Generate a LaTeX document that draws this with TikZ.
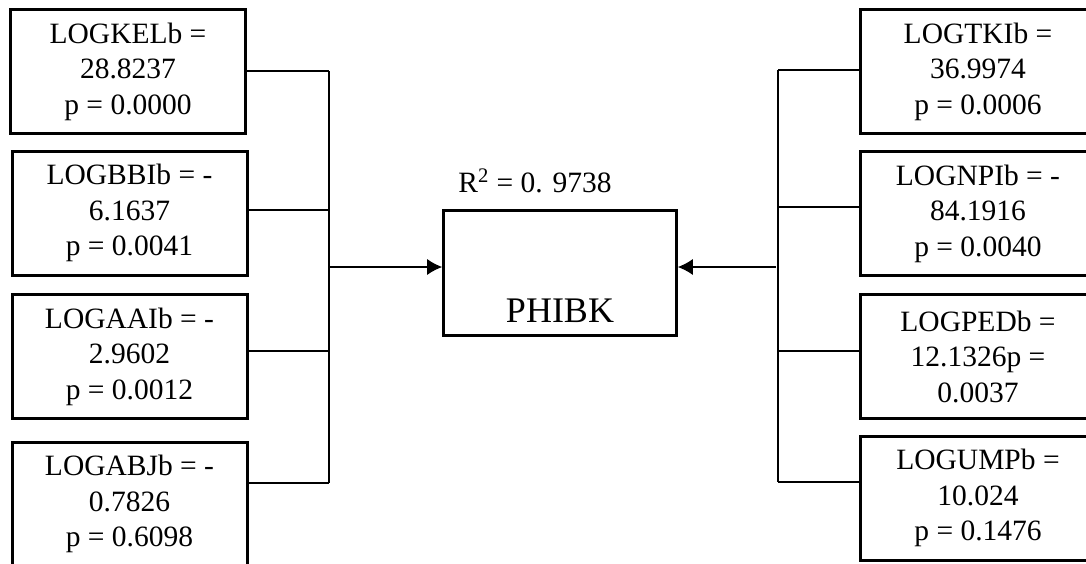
\documentclass[tikz,border=0pt]{standalone}
\usepackage{fontspec}
\setmainfont{Liberation Serif}
\usetikzlibrary{arrows.meta}
\tikzset{
  coef/.style={draw, line width=1.5pt, minimum width=117.5pt, minimum height=62pt, align=center, font=\fontsize{14.75}{17.75}\selectfont},
  wire/.style={line width=0.65pt},
}
\begin{document}
\begin{tikzpicture}[x=0.5pt, y=-0.5pt, >={Latex[length=7.5pt,width=8pt]}]
    \clip (0,0) rectangle (1086,563);
    % left column
    \node[coef] (kel) at (128,71.5) {LOGKELb =\\28.8237\\p = 0.0000};
    \node[coef] (bbi) at (129.5,213) {LOGBBIb = -\\6.1637\\p = 0.0041};
    \node[coef] (aai) at (129.5,356.5) {LOGAAIb = -\\2.9602\\p = 0.0012};
    \node[coef] (abj) at (129.5,504) {LOGABJb = -\\0.7826\\p = 0.6098};
    % right column
    \node[coef] (tki) at (978,71.5) {LOGTKIb =\\36.9974\\p = 0.0006};
    \node[coef] (npi) at (978,213.5) {LOGNPIb = -\\84.1916\\p = 0.0040};
    \node[coef] (ped) at (978,356.5) {LOGPEDb =\\12.1326p =\\0.0037};
    \node[coef] (ump) at (978,498) {LOGUMPb =\\10.024\\p = 0.1476};
    % dependent variable
    \node[draw, line width=1.3pt, minimum width=116.5pt, minimum height=62.5pt, font=\fontsize{18}{21}\selectfont, text height=49pt, text depth=0pt] (phibk) at (560,273) {PHIBK};
    \node[font=\fontsize{14.75}{17.75}\selectfont] (rsq) at (535,181) {R\textsuperscript{2} = 0. 9738};
    % buses
    \coordinate (lbusT) at (329,71);
    \coordinate (lbusB) at (329,483);
    \coordinate (lmid) at (329,267);
    \coordinate (rbusT) at (778,70);
    \coordinate (rbusB) at (778,482);
    \coordinate (rmid) at (776,267);
    \draw[wire] (lbusT) -- (lbusB);
    \draw[wire] (rbusT) -- (rbusB);
    \draw[wire] (kel.east |- lbusT) -- (lbusT);
    \draw[wire] (bbi.east |- 0,210) -- (329,210);
    \draw[wire] (aai.east |- 0,351) -- (329,351);
    \draw[wire] (abj.east |- lbusB) -- (lbusB);
    \draw[wire] (tki.west |- rbusT) -- (rbusT);
    \draw[wire] (npi.west |- 0,207) -- (778,207);
    \draw[wire] (ped.west |- 0,351) -- (778,351);
    \draw[wire] (ump.west |- rbusB) -- (rbusB);
    \draw[wire, ->] (lmid) -- (lmid -| phibk.west);
    \draw[wire, ->] (rmid) -- (rmid -| phibk.east);
\end{tikzpicture}
\end{document}
